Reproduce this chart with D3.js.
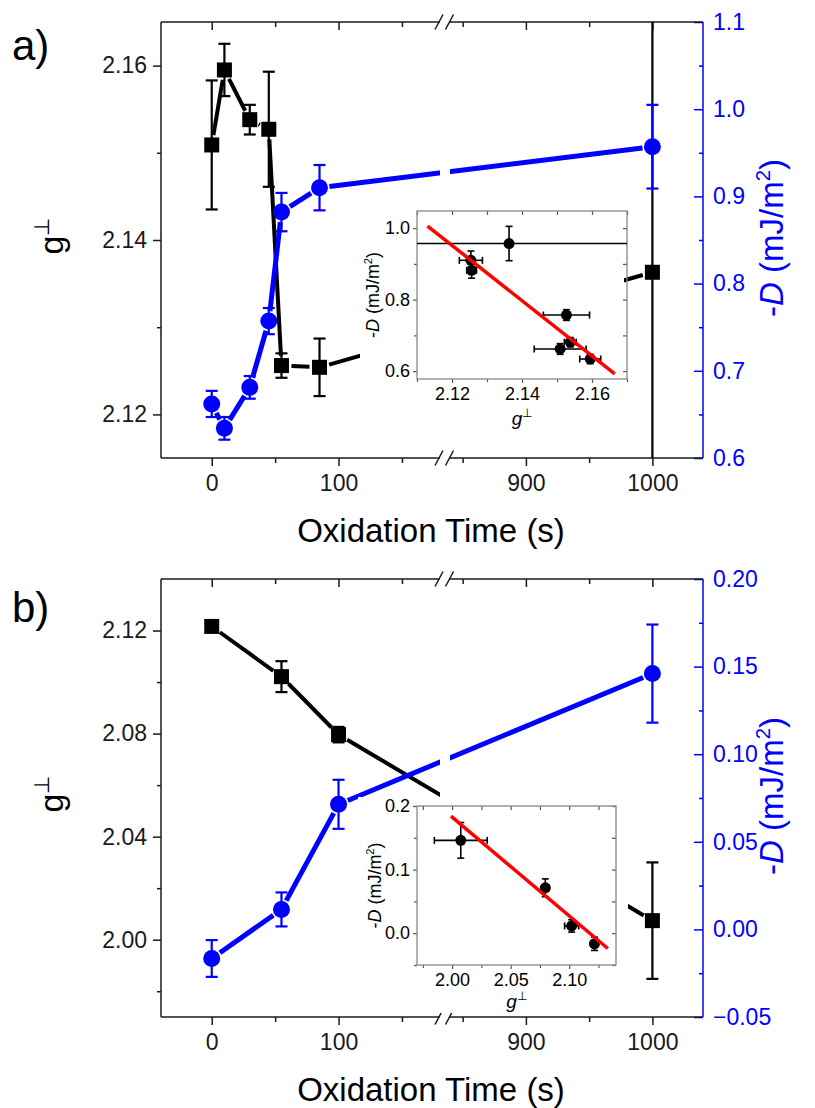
<!DOCTYPE html>
<html><head><meta charset="utf-8">
<script src="https://cdn.jsdelivr.net/npm/d3@7/dist/d3.min.js"></script>
<style>
body{margin:0;background:#fff}
svg{display:block}
text{font-family:"Liberation Sans",Arial,sans-serif}
</style>
</head><body>
<svg id="c" width="815" height="1108"></svg>
<script>
// ---------------- DATA ----------------
// Panel a
const timeA = [0, 10, 30, 45, 55, 85, 1000];
const gA    = [2.1509, 2.1595, 2.1538, 2.1527, 2.1256, 2.1254, 2.1363];
const gErrA = [0.0074, 0.0030, 0.0017, 0.0066, 0.0014, 0.0033, 0.0600];
const dA    = [0.662, 0.634, 0.681, 0.757, 0.882, 0.910, 0.957];
const dErrA = [0.015, 0.013, 0.013, 0.015, 0.022, 0.026, 0.048];
const fitAx = [2.113, 2.1665];
const fitAy = [1.006, 0.592];
// Panel b
const timeB = [0, 55, 100, 1000];
const gB    = [2.1216, 2.1021, 2.0796, 2.0074];
const gErrB = [0.0010, 0.0060, 0.0030, 0.0226];
const dB    = [-0.0166, 0.0114, 0.0714, 0.146];
const dErrB = [0.0105, 0.0097, 0.014, 0.028];
const fitBx = [1.999, 2.133];
const fitBy = [0.184, -0.024];
// Tick values
const xTicks1 = [0, 100], xMinor1 = [50, 150];
const xTicks2 = [900, 1000], xMinor2 = [850, 950];
const gTicksA = [2.12, 2.14, 2.16], gMinorA = [2.13, 2.15];
const dTicksA = [0.6, 0.7, 0.8, 0.9, 1.0, 1.1], dMinorA = [0.65, 0.75, 0.85, 0.95, 1.05];
const gTicksB = [2.00, 2.04, 2.08, 2.12], gMinorB = [1.98, 2.02, 2.06, 2.10];
const dTicksB = [-0.05, 0.00, 0.05, 0.10, 0.15, 0.20], dMinorB = [-0.025, 0.025, 0.075, 0.125, 0.175];
const insAxT = [2.12, 2.14, 2.16], insAxM = [2.11, 2.13, 2.15, 2.17];
const insAyT = [0.6, 0.8, 1.0], insAyM = [0.7, 0.9];
const insBxT = [2.00, 2.05, 2.10], insBxM = [1.975, 2.025, 2.075, 2.125];
const insByT = [0.0, 0.1, 0.2], insByM = [-0.05, 0.05, 0.15];

// ---------------- LAYOUT ----------------
const BLUE = "#0000ff", AX = "#1a1a1a", FONT = "Liberation Sans, Arial, sans-serif";
const L = 161, R = 703, B1 = 440, B2 = 450;
const svg = d3.select("#c");
svg.append("rect").attr("width", 815).attr("height", 1108).attr("fill", "#fff");

const xs1 = d3.scaleLinear([-40, 180], [L, B1]);
const xs2 = d3.scaleLinear([840, 1040], [B2, R]);
const X = t => t <= 180 ? xs1(t) : xs2(t);

function styleAxis(g, size, color, width) {
  g.attr("font-family", FONT).attr("font-size", size);
  g.select(".domain").remove();
  g.selectAll("line").attr("stroke", color).attr("stroke-width", width);
  g.selectAll("text").attr("fill", color);
}

function richText(g, x, y, parts, size, color, rotate, anchor) {
  const t = g.append("text")
    .attr("transform", `translate(${x},${y})` + (rotate ? " rotate(-90)" : ""))
    .attr("text-anchor", anchor || "middle").attr("font-size", size).attr("fill", color);
  const sh = size * 0.4;
  let up = false;
  parts.forEach(p => {
    const s = t.append("tspan").text(p.t);
    if (p.i) s.attr("font-style", "italic");
    if (p.sup) { s.attr("font-size", size * 0.62).attr("dy", -sh); up = true; }
    else if (up) { s.attr("dy", sh); up = false; }
  });
  return t;
}

let clipId = 0;
function addClip(rects) {
  const id = "clip" + (clipId++);
  const cp = svg.append("clipPath").attr("id", id);
  rects.forEach(r => cp.append("rect").attr("x", r[0]).attr("y", r[1]).attr("width", r[2]).attr("height", r[3]));
  return `url(#${id})`;
}

function gapSegments(pts, gap) {
  const segs = [];
  for (let i = 0; i < pts.length - 1; i++) {
    const [x1, y1] = pts[i], [x2, y2] = pts[i + 1];
    const dx = x2 - x1, dy = y2 - y1, len = Math.hypot(dx, dy);
    if (len <= 2 * gap) continue;
    const ux = dx / len, uy = dy / len;
    segs.push([x1 + ux * gap, y1 + uy * gap, x2 - ux * gap, y2 - uy * gap]);
  }
  return segs;
}

function drawPanel(p) {
  const T = p.top, Bt = p.bottom;
  const yG = d3.scaleLinear(p.gDomain, [Bt, T]);
  const yD = d3.scaleLinear(p.dDomain, [Bt, T]);
  const g = svg.append("g");

  // left axis
  styleAxis(g.append("g").attr("transform", `translate(${L},0)`)
    .call(d3.axisLeft(yG).tickValues(p.gTicks).tickSize(8).tickPadding(6).tickFormat(d3.format(".2f"))), 23, AX, 1.5);
  styleAxis(g.append("g").attr("transform", `translate(${L},0)`)
    .call(d3.axisLeft(yG).tickValues(p.gMinor).tickSize(4).tickFormat("")), 23, AX, 1.5);
  // right axis (blue, ticks inward)
  styleAxis(g.append("g").attr("transform", `translate(${R},0)`)
    .call(d3.axisRight(yD).tickValues(p.dTicks).tickSize(-9).tickPadding(10).tickFormat(d3.format(p.dFmt))), 23, BLUE, 1.5);
  styleAxis(g.append("g").attr("transform", `translate(${R},0)`)
    .call(d3.axisRight(yD).tickValues(p.dMinor).tickSize(-4).tickFormat("")), 23, BLUE, 1.5);
  // bottom & top axes in two segments
  [[xs1, xTicks1, xMinor1], [xs2, xTicks2, xMinor2]].forEach(([sc, tk, mn]) => {
    styleAxis(g.append("g").attr("transform", `translate(0,${Bt})`)
      .call(d3.axisBottom(sc).tickValues(tk).tickSize(8).tickPadding(9).tickFormat(d3.format("d"))), 23, AX, 1.5);
    styleAxis(g.append("g").attr("transform", `translate(0,${Bt})`)
      .call(d3.axisBottom(sc).tickValues(mn).tickSize(5).tickFormat("")), 23, AX, 1.5);
    styleAxis(g.append("g").attr("transform", `translate(0,${T})`)
      .call(d3.axisTop(sc).tickValues(tk).tickSize(-8).tickFormat("")), 23, AX, 1.5);
    styleAxis(g.append("g").attr("transform", `translate(0,${T})`)
      .call(d3.axisTop(sc).tickValues(mn).tickSize(-5).tickFormat("")), 23, AX, 1.5);
  });
  // frame lines
  const fr = g.append("g").attr("stroke", AX).attr("stroke-width", 1.5).attr("fill", "none");
  fr.append("line").attr("x1", L).attr("x2", L).attr("y1", T).attr("y2", Bt);
  [T, Bt].forEach(yy => {
    fr.append("line").attr("x1", L).attr("x2", B1).attr("y1", yy).attr("y2", yy);
    fr.append("line").attr("x1", B2 - 1).attr("x2", R).attr("y1", yy).attr("y2", yy);
    [B1 - 1, B2 - 0.5].forEach(bx => fr.append("line")
      .attr("x1", bx - 4).attr("y1", yy + 7.5).attr("x2", bx + 4).attr("y2", yy - 7.5));
  });
  g.append("line").attr("x1", R).attr("x2", R).attr("y1", T).attr("y2", Bt)
    .attr("stroke", BLUE).attr("stroke-width", 1.5);

  // clips
  const lineClip = addClip([[L, T, B1 - L, Bt - T], [B2, T, R - B2, Bt - T]]);
  const plotClip = addClip([[L, T, R - L, Bt - T]]);

  function series(vals, errs, scale, color, lw, marker) {
    const pts = p.t.map((t, i) => [X(t), scale(vals[i])]);
    g.append("g").attr("clip-path", lineClip).selectAll("line")
      .data(gapSegments(pts, 10)).join("line")
      .attr("x1", d => d[0]).attr("y1", d => d[1]).attr("x2", d => d[2]).attr("y2", d => d[3])
      .attr("stroke", color).attr("stroke-width", lw);
    const eb = g.append("g").attr("clip-path", plotClip).attr("stroke", color).attr("stroke-width", 2.2);
    p.t.forEach((t, i) => {
      const x = X(t), y1 = scale(vals[i] + errs[i]), y2 = scale(vals[i] - errs[i]);
      eb.append("line").attr("x1", x).attr("x2", x).attr("y1", y1).attr("y2", y2);
      [y1, y2].forEach(yy => eb.append("line").attr("x1", x - 6).attr("x2", x + 6).attr("y1", yy).attr("y2", yy));
    });
    const mk = g.append("g").attr("clip-path", plotClip).attr("fill", color);
    if (marker === "square") {
      mk.selectAll("rect").data(pts).join("rect")
        .attr("x", d => d[0] - 7.5).attr("y", d => d[1] - 7.5).attr("width", 15).attr("height", 15);
    } else {
      mk.selectAll("circle").data(pts).join("circle")
        .attr("cx", d => d[0]).attr("cy", d => d[1]).attr("r", 8.5);
    }
  }
  series(p.g, p.gErr, yG, "#000", 4, "square");
  series(p.d, p.dErr, yD, BLUE, 5, "circle");

  // texts
  g.append("text").attr("x", 12).attr("y", p.letterY).attr("font-size", 42).attr("fill", "#000").text(p.letter);
  g.append("text").attr("x", 431).attr("y", Bt + 84).attr("text-anchor", "middle")
    .attr("font-size", 33).attr("fill", "#000").text("Oxidation Time (s)");
  richText(g, 63, (T + Bt) / 2 - 4, [{t: "g"}, {t: "⊥", sup: true}], 34, "#000", true);
  richText(g, 783, (T + Bt) / 2 - 2, [{t: "-"}, {t: "D", i: true}, {t: " (mJ/m"}, {t: "2", sup: true}, {t: ")"}], 33, BLUE, true);

  drawInset(p.ins);
}

function drawInset(n) {
  const g = svg.append("g");
  g.append("rect").attr("x", n.bg[0]).attr("y", n.bg[1]).attr("width", n.bg[2] - n.bg[0])
    .attr("height", n.bg[3] - n.bg[1]).attr("fill", "#fff");
  const xs = d3.scaleLinear(n.xDomain, [n.x0, n.x1]);
  const ys = d3.scaleLinear(n.yDomain, [n.y1, n.y0]);
  const IC = "#555";
  styleAxis(g.append("g").attr("transform", `translate(0,${n.y1})`)
    .call(d3.axisBottom(xs).tickValues(n.xT).tickSize(4).tickPadding(4).tickFormat(d3.format(".2f"))), 18, "#000", 1.2);
  styleAxis(g.append("g").attr("transform", `translate(0,${n.y1})`)
    .call(d3.axisBottom(xs).tickValues(n.xM).tickSize(3).tickFormat("")), 18, "#000", 1.2);
  styleAxis(g.append("g").attr("transform", `translate(${n.x0},0)`)
    .call(d3.axisLeft(ys).tickValues(n.yT).tickSize(4).tickPadding(3).tickFormat(d3.format(".1f"))), 18, "#000", 1.2);
  styleAxis(g.append("g").attr("transform", `translate(${n.x0},0)`)
    .call(d3.axisLeft(ys).tickValues(n.yM).tickSize(3).tickFormat("")), 18, "#000", 1.2);
  styleAxis(g.append("g").attr("transform", `translate(0,${n.y0})`)
    .call(d3.axisTop(xs).tickValues(n.xT.concat(n.xM)).tickSize(-4).tickFormat("")), 18, "#000", 1.2);
  styleAxis(g.append("g").attr("transform", `translate(${n.x1},0)`)
    .call(d3.axisRight(ys).tickValues(n.yT.concat(n.yM)).tickSize(-4).tickFormat("")), 18, "#000", 1.2);
  g.selectAll("line").attr("stroke", IC);
  g.append("rect").attr("x", n.x0).attr("y", n.y0).attr("width", n.x1 - n.x0).attr("height", n.y1 - n.y0)
    .attr("fill", "none").attr("stroke", "#888").attr("stroke-width", 1.3);

  const clip = addClip([[n.x0, n.y0, n.x1 - n.x0, n.y1 - n.y0]]);
  const pg = g.append("g").attr("clip-path", clip);
  const eb = pg.append("g").attr("stroke", "#000").attr("stroke-width", 1.6);
  n.gx.forEach((gv, i) => {
    const cx = xs(gv), cy = ys(n.dy[i]);
    const xa = xs(gv - n.gxe[i]), xb = xs(gv + n.gxe[i]);
    const ya = ys(n.dy[i] + n.dye[i]), yb = ys(n.dy[i] - n.dye[i]);
    eb.append("line").attr("x1", xa).attr("x2", xb).attr("y1", cy).attr("y2", cy);
    [xa, xb].forEach(xx => eb.append("line").attr("x1", xx).attr("x2", xx).attr("y1", cy - 3.5).attr("y2", cy + 3.5));
    eb.append("line").attr("x1", cx).attr("x2", cx).attr("y1", ya).attr("y2", yb);
    [ya, yb].forEach(yy => eb.append("line").attr("x1", cx - 3.5).attr("x2", cx + 3.5).attr("y1", yy).attr("y2", yy));
  });
  pg.append("g").selectAll("circle").data(n.gx).join("circle")
    .attr("cx", d => xs(d)).attr("cy", (d, i) => ys(n.dy[i])).attr("r", 5.5).attr("fill", "#000");
  pg.append("line").attr("x1", xs(n.fx[0])).attr("y1", ys(n.fy[0])).attr("x2", xs(n.fx[1])).attr("y2", ys(n.fy[1]))
    .attr("stroke", "#ff0000").attr("stroke-width", 3.5);

  richText(g, (n.x0 + n.x1) / 2, n.xlabY, [{t: "g", i: true}, {t: "⊥", sup: true}], 19, "#000", false);
  richText(g, n.ylabX, (n.y0 + n.y1) / 2, [{t: "-"}, {t: "D", i: true}, {t: " (mJ/m"}, {t: "2", sup: true}, {t: ")"}], 18, "#000", true);
}

drawPanel({
  top: 22, bottom: 458, gDomain: [2.115, 2.165], dDomain: [0.6, 1.1],
  gTicks: gTicksA, gMinor: gMinorA, dTicks: dTicksA, dMinor: dMinorA, dFmt: ".1f",
  letter: "a)", letterY: 60,
  t: timeA, g: gA, gErr: gErrA, d: dA, dErr: dErrA,
  ins: {x0: 417, x1: 627, y0: 211, y1: 379, xDomain: [2.11, 2.17], yDomain: [0.578, 1.048],
        xT: insAxT, xM: insAxM, yT: insAyT, yM: insAyM,
        gx: gA, gxe: gErrA, dy: dA, dye: dErrA, fx: fitAx, fy: fitAy,
        bg: [360, 200, 624, 432], xlabY: 425, ylabX: 379}
});
drawPanel({
  top: 579, bottom: 1017, gDomain: [1.97, 2.14], dDomain: [-0.05, 0.20],
  gTicks: gTicksB, gMinor: gMinorB, dTicks: dTicksB, dMinor: dMinorB, dFmt: ".2f",
  letter: "b)", letterY: 622,
  t: timeB, g: gB, gErr: gErrB, d: dB, dErr: dErrB,
  ins: {x0: 417, x1: 616, y0: 806, y1: 965, xDomain: [1.97, 2.14], yDomain: [-0.05, 0.20],
        xT: insBxT, xM: insBxM, yT: insByT, yM: insByM,
        gx: gB, gxe: gErrB, dy: dB, dye: dErrB, fx: fitBx, fy: fitBy,
        bg: [358, 797, 628, 1013], xlabY: 1008, ylabX: 381}
});
</script>
</body></html>
